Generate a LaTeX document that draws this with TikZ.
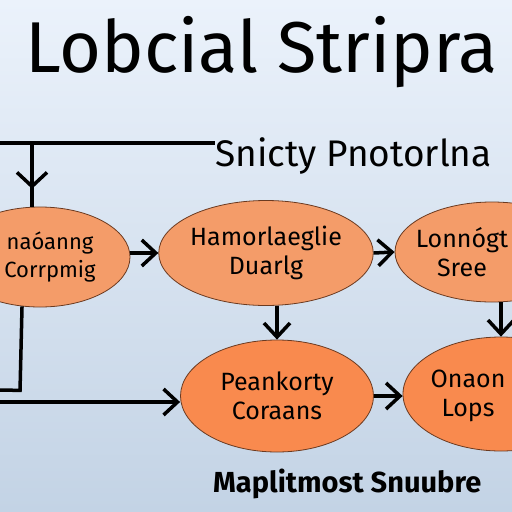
\documentclass[tikz,border=0pt]{standalone}
\usepackage{fontspec}
\setmainfont{Fira Sans}
\usetikzlibrary{shapes.geometric, arrows.meta, decorations.markings}

\definecolor{bgtop}{HTML}{EBF2FB}
\definecolor{bgbot}{HTML}{C3D3E5}
\definecolor{paleorange}{HTML}{F49C69}
\definecolor{deeporange}{HTML}{F98A4E}
\definecolor{rim}{HTML}{6B3A20}

\begin{document}
\begin{tikzpicture}[x=1pt, y=-1pt,
  bubble/.style={draw=rim, line width=0.8pt, ellipse, inner sep=0pt, align=center, font=\fontsize{25}{29}\selectfont},
  btext/.style={inner sep=0pt, align=center, font=\fontsize{25}{29}\selectfont},
  wire/.style={line width=3.5pt},
  conn/.style={line width=3.5pt, -{Straight Barb[length=14pt, width=26pt, line width=3.5pt]}}
]
\useasboundingbox (0,0) rectangle (512,512);
\shade[top color=bgtop, bottom color=bgbot] (0,0) rectangle (512,512);
\clip (0,0) rectangle (512,512);

% headings
\node[anchor=base west, font=\fontsize{72}{72}\selectfont, inner sep=0pt] (title) at (25,72) {Lobcial Stripra};
\node[anchor=base west, font=\fontsize{37}{37}\selectfont, inner sep=0pt] (subtitle) at (215,166) {Snicty Pnotorlna};
\node[anchor=base west, font=\bfseries\fontsize{29}{29}\selectfont, inner sep=0pt] (footer) at (213,492) {Maplitmost Snuubre};

% bubbles
\node[bubble, fill=paleorange, minimum width=180pt, minimum height=100pt] (e1) at (40,257) {};
\node[btext, font=\fontsize{22}{28}\selectfont] (t1) at (50,257) {naóanng\\Corrpmig};
\node[bubble, fill=paleorange, minimum width=208pt, minimum height=105pt] (e2) at (266,253) {Hamorlaeglie\\Duarlg};
\node[bubble, fill=paleorange, minimum width=194pt, minimum height=100pt] (e3) at (492,252) {};
\node[btext] (t3) at (462,252) {Lonnógt\\Sree};
\node[bubble, fill=deeporange, minimum width=193pt, minimum height=112pt] (e4) at (277,396) {Peankorty\\Coraans};
\node[bubble, fill=deeporange, minimum width=196pt, minimum height=114pt] (e5) at (501,394) {};
\node[btext] (t5) at (468,396) {Onaon\\Lops};

% connectors
\coordinate (tl) at (0,143);
\coordinate (tap) at (32,143);
\coordinate (lout) at (0,390);
\coordinate (lin) at (0,402);

\draw[wire] (tl) -- (subtitle.west |- tl);
\draw[wire, postaction={decorate}, decoration={markings, mark=at position 0.72 with {\arrow{Straight Barb[length=14pt, width=30pt, line width=3.5pt]}}}] (tap) -- (tap |- e1.north);
\draw[wire] (e1.250) -- ++(-2,84) -- (lout);
\draw[conn] (lin) -- (lin -| e4.west);
\draw[conn] (e1.east |- e2.west) -- (e2.west);
\draw[conn] (e2.east) -- (e3.west);
\draw[conn] (e4.north |- e2.south) -- (e4.north);
\draw[conn] (e5.north |- e3.south) -- (e5.north);
\draw[conn] (e4.east) -- (e4.east -| e5.west);

\end{tikzpicture}
\end{document}
